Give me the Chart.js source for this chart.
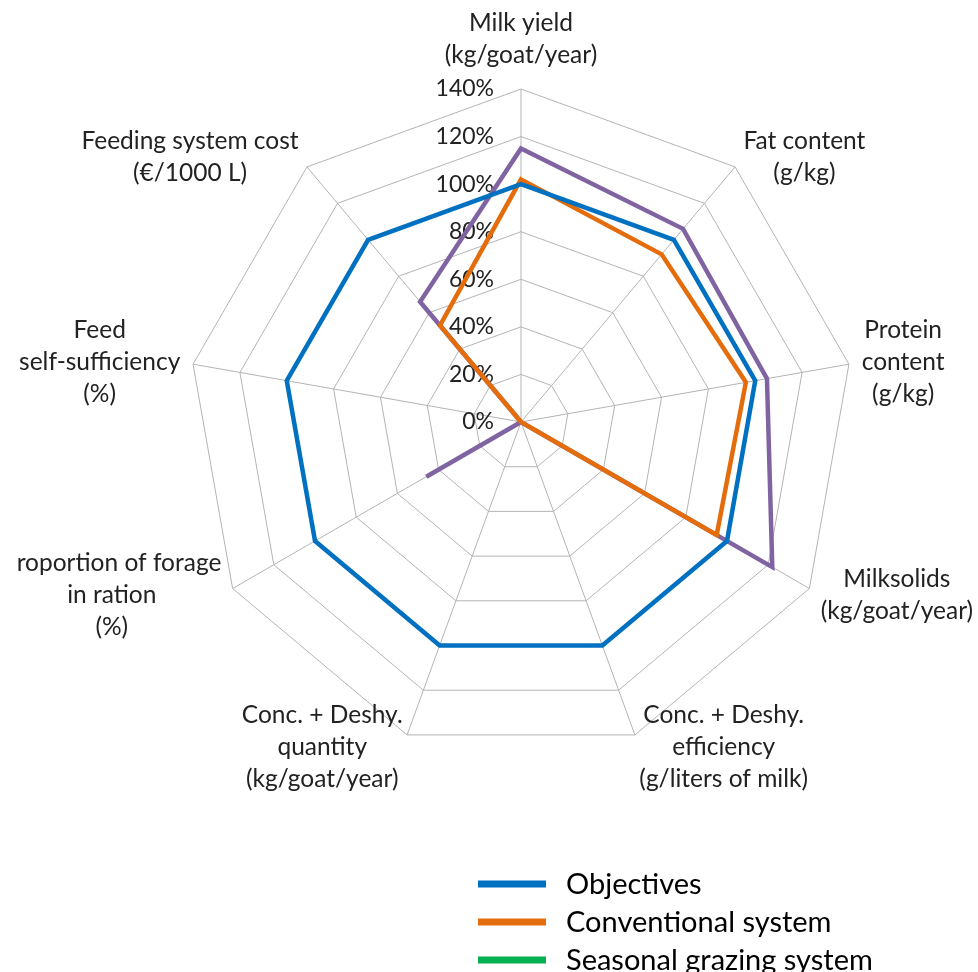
<!DOCTYPE html>
<html>
<head>
<meta charset="utf-8">
<script src="https://cdn.jsdelivr.net/npm/chart.js@4.4.0/dist/chart.umd.min.js"></script>
<style>
body { margin:0; background:#fff; overflow:hidden; }
#radarChart { position:absolute; left:17px; top:0; }
</style>
</head>
<body>
<canvas id="radarChart" width="961" height="972"></canvas>
<script>

const categories = [
    ['Milk yield', '(kg/goat/year)'],
    ['Fat content', '(g/kg)'],
    ['Protein', 'content', '(g/kg)'],
    ['Milksolids', '(kg/goat/year)'],
    ['Conc. + Deshy.', 'efficiency', '(g/liters of milk)'],
    ['Conc. + Deshy.', 'quantity', '(kg/goat/year)'],
    ['Proportion of forage', 'in ration', '(%)'],
    ['Feed', 'self-sufficiency', '(%)'],
    ['Feeding system cost', '(€/1000 L)']
]

const tickValues = [0, 20, 40, 60, 80, 100, 120, 140]

const seriesNames = ['Objectives', 'Conventional system', 'Seasonal grazing system', 'Series 4']
const objectives = [100, 100, 100, 100, 100, 100, 100, 100, 100]
const conventional = [102, 92, 96, 95, 0, 0, 0, 0, 53]
const seasonalGrazing = [null, null, null, null, null, null, null, null, null]
const series4 = [115, 106, 105, 122, 0, 0, 46, 0, 66]

const seriesColors = ['#0070c0', '#e46c0a', '#00b050', '#8064a2']
const textColor = '#222222'
const labelFont = '24.5px Lato'
const tickFont = '23px Lato'
const labelLine = 32

var axisLabels = {
    id: 'axisLabels',
    beforeDatasetsDraw: function(chart) {
        // value labels sit left of the vertical axis, like excel does
        var scale = chart.scales.r
        var ctx = chart.ctx
        ctx.save()
        ctx.font = tickFont
        ctx.fillStyle = textColor
        ctx.textAlign = 'right'
        ctx.textBaseline = 'middle'
        for (tick of scale.ticks) {
            var y = scale.yCenter - scale.getDistanceFromCenterForValue(tick.value)
            ctx.fillText(tick.value + '%', scale.xCenter - 27, y)
        }
        ctx.restore()
    },
    afterDraw: function(chart) {
        var scale = chart.scales.r
        var ctx = chart.ctx
        ctx.save()
        ctx.font = labelFont
        ctx.fillStyle = textColor
        ctx.textAlign = 'center'
        ctx.textBaseline = 'middle'
        chart.data.labels.forEach(function(lines, i) {
            var a = scale.getIndexAngle(i)
            var ux = Math.sin(a), uy = -Math.cos(a)
            var p = scale.getPointPosition(i, scale.drawingArea)
            var w = Math.max(...lines.map(l => ctx.measureText(l).width))
            var h = lines.length * labelLine
            var cx, cy
            if (Math.abs(ux) < 0.01) {
                cx = p.x
                cy = p.y + uy * 18 + Math.sign(uy) * h / 2
            } else {
                cx = p.x + ux * 13 + Math.sign(ux) * w / 2
                cy = p.y + uy * 13
            }
            lines.forEach(function(l, k) {
                ctx.fillText(l, cx, cy - h / 2 + labelLine * (k + 0.5))
            })
        })
        ctx.restore()
    }
}

var sideLegend = {
    id: 'sideLegend',
    afterDraw: function(chart) {
        var ctx = chart.ctx
        ctx.save()
        ctx.font = '29px Lato'
        ctx.textBaseline = 'middle'
        chart.data.datasets.forEach(function(ds, i) {
            var y = 884 + i * 38
            ctx.strokeStyle = ds.borderColor
            ctx.lineWidth = 7
            ctx.beginPath()
            ctx.moveTo(461, y)
            ctx.lineTo(529, y)
            ctx.stroke()
            ctx.fillStyle = '#000'
            ctx.fillText(ds.label, 549, y + 1)
        })
        ctx.restore()
    }
}

var seriesData = [objectives, conventional, seasonalGrazing, series4]

var myChart = new Chart(document.getElementById('radarChart').getContext('2d'), {
    type: 'radar',
    data: {
        labels: categories,
        datasets: seriesNames.map(function(name, i) {
            return {
                label: name,
                data: seriesData[i],
                borderColor: seriesColors[i],
                backgroundColor: seriesColors[i],
                borderWidth: 4.5,
                fill: false,
                pointRadius: 0,
                pointHoverRadius: 0,
                tension: 0
            }
        })
    },
    options: {
        responsive: false,
        animation: false,
        layout: {
            padding: {left: 171, right: 124, top: 89, bottom: 217}
        },
        scales: {
            r: {
                min: tickValues[0],
                max: tickValues[tickValues.length - 1],
                ticks: {
                    stepSize: 20,
                    display: false
                },
                pointLabels: {
                    display: false
                },
                grid: {
                    color: '#b4b4b4',
                    lineWidth: 1
                },
                angleLines: {
                    color: '#b4b4b4',
                    lineWidth: 1
                }
            }
        },
        plugins: {
            legend: {display: false},
            tooltip: {enabled: false}
        }
    },
    plugins: [axisLabels, sideLegend]
})

</script>
</body>
</html>
